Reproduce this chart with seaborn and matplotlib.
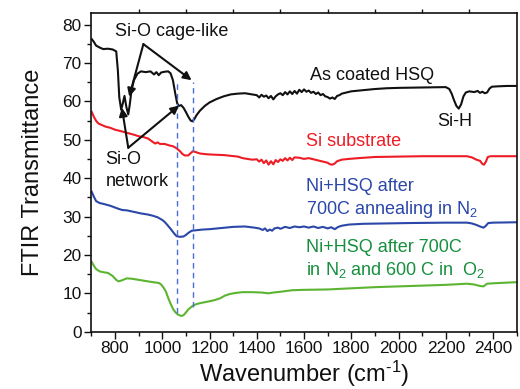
import matplotlib
matplotlib.use("Agg")
import matplotlib.pyplot as plt
import seaborn as sns
import pandas as pd
from matplotlib.ticker import MultipleLocator, FixedLocator

# ---------------- data ----------------
hsq_wn = [700, 710, 720, 735, 750, 770, 790, 805, 812, 818, 826, 833, 840, 848, 856, 862, 870, 880,
          895, 910, 930, 950, 965, 975, 985, 995, 1010, 1025, 1035, 1045, 1055, 1063, 1070, 1080, 1090,
          1100, 1110, 1120, 1127, 1135, 1145, 1160, 1180, 1200, 1230, 1260, 1290, 1320, 1350, 1380,
          1400, 1410, 1420, 1430, 1440, 1450, 1460, 1470, 1480, 1490, 1500, 1510, 1520, 1530, 1540,
          1550, 1560, 1570, 1580, 1590, 1600, 1610, 1620, 1630, 1640, 1650, 1660, 1670, 1680, 1690,
          1700, 1710, 1720, 1730, 1740, 1750, 1760, 1780, 1800, 1850, 1900, 1950, 2000, 2100, 2200,
          2215, 2225, 2235, 2245, 2255, 2265, 2275, 2285, 2300, 2320, 2335, 2345, 2355, 2365, 2375,
          2385, 2395, 2420, 2460, 2500]
hsq_val = [76.3, 75.5, 74.5, 74.0, 73.6, 73.7, 73.5, 73.0, 68.0, 61.0, 57.8, 59.5, 61.4, 58.5, 56.6, 59.0,
           63.0, 65.5, 67.2, 67.8, 67.6, 67.8, 67.0, 67.6, 66.8, 67.5, 67.7, 67.8, 67.3, 65.5, 62.0, 59.5,
           58.8, 59.0, 58.3, 57.2, 56.0, 55.0, 54.8, 55.3, 56.4, 57.6, 58.8, 59.7, 60.6, 61.3, 61.8, 62.0,
           62.1, 61.8, 61.6, 61.0, 61.7, 61.2, 61.5, 60.8, 61.4, 60.5, 61.3, 61.8, 62.1, 61.6, 62.4, 61.8,
           62.6, 61.9, 62.7, 62.0, 63.0, 62.4, 63.1, 62.5, 62.8, 62.2, 62.5, 61.9, 62.3, 61.6, 61.9, 61.3,
           61.1, 60.7, 61.0, 60.6, 61.4, 61.6, 62.0, 62.3, 62.6, 62.9, 63.2, 63.4, 63.5, 63.6, 63.7,
           63.2, 62.0, 60.3, 58.8, 58.1, 59.2, 61.3, 62.3, 62.6, 62.4, 62.7, 62.2, 62.5, 62.1, 62.3,
           63.3, 63.8, 63.9, 64.0, 64.0]

si_wn = [700, 710, 720, 730, 745, 760, 780, 800, 820, 850, 880, 900, 920, 940, 960, 970, 980, 990, 1010,
         1030, 1045, 1060, 1075, 1085, 1095, 1110, 1120, 1130, 1140, 1160, 1190, 1220, 1260, 1290, 1320,
         1340, 1360, 1380, 1400, 1410, 1420, 1430, 1440, 1450, 1460, 1470, 1480, 1490, 1500, 1510, 1520,
         1530, 1540, 1550, 1560, 1580, 1600, 1620, 1640, 1660, 1680, 1700, 1710, 1720, 1730, 1740, 1760,
         1790, 1830, 1900, 2000, 2100, 2200, 2290, 2310, 2330, 2345, 2355, 2362, 2370, 2378, 2390, 2500]
si_val = [57.4, 56.0, 54.9, 54.2, 53.8, 53.4, 53.1, 52.6, 52.3, 51.8, 51.3, 50.9, 50.7, 50.3, 49.4, 49.0,
          49.3, 48.9, 48.9, 48.5, 48.3, 47.8, 47.0, 46.3, 45.9, 45.9, 46.5, 47.0, 46.8, 46.4, 46.2, 46.1,
          46.0, 45.8, 45.6, 45.2, 45.0, 44.8, 44.9, 44.3, 44.8, 43.9, 44.6, 43.5, 44.4, 43.6, 44.7, 44.2,
          44.9, 44.5, 45.2, 44.6, 45.3, 44.7, 45.4, 45.3, 45.0, 45.2, 44.9, 44.6, 44.3, 44.0, 43.6, 43.5,
          43.8, 44.4, 44.8, 45.0, 45.2, 45.5, 45.6, 45.7, 45.7, 45.7, 45.4, 44.8, 44.5, 43.7, 43.5, 44.3,
          45.5, 45.7, 45.7]

n2_wn = [700, 710, 720, 735, 750, 780, 810, 830, 850, 880, 910, 940, 960, 980, 1000, 1010, 1020, 1035,
         1050, 1060, 1075, 1090, 1100, 1112, 1125, 1140, 1170, 1200, 1250, 1300, 1350, 1390, 1410, 1425,
         1435, 1445, 1455, 1465, 1475, 1490, 1500, 1520, 1540, 1560, 1580, 1600, 1620, 1640, 1660, 1680,
         1700, 1715, 1730, 1745, 1760, 1790, 1850, 1950, 2050, 2200, 2290, 2310, 2330, 2345, 2360, 2370,
         2380, 2400, 2500]
n2_val = [36.6, 35.2, 34.0, 33.5, 33.3, 32.8, 32.1, 31.7, 31.6, 31.2, 30.8, 30.5, 30.2, 29.8, 29.1, 28.6,
          27.9, 26.8, 25.6, 24.9, 24.7, 24.8, 25.2, 25.8, 26.3, 26.4, 26.6, 26.7, 27.0, 27.3, 27.4, 27.1,
          26.9, 26.5, 26.9, 26.2, 26.6, 26.3, 26.9, 27.1, 26.8, 27.3, 27.0, 27.4, 27.2, 27.4, 27.1, 27.4,
          27.0, 27.3, 26.9, 27.2, 26.7, 27.3, 27.6, 27.9, 28.1, 28.2, 28.3, 28.4, 28.4, 28.2, 27.8, 27.4,
          27.1, 27.6, 28.3, 28.4, 28.5]

o2_wn = [700, 710, 720, 735, 750, 770, 790, 805, 815, 830, 850, 870, 900, 930, 960, 985, 995, 1005, 1015,
         1025, 1035, 1045, 1055, 1065, 1080, 1090, 1100, 1110, 1120, 1130, 1145, 1165, 1190, 1220, 1245,
         1265, 1285, 1310, 1340, 1380, 1420, 1450, 1470, 1500, 1550, 1600, 1700, 1800, 1900, 2000, 2100,
         2200, 2290, 2320, 2345, 2360, 2375, 2400, 2500]
o2_val = [18.3, 17.2, 16.3, 15.7, 15.5, 15.3, 14.5, 13.5, 13.1, 13.4, 13.9, 13.8, 13.5, 13.2, 12.9, 12.7,
          12.3, 11.5, 10.5, 8.8, 7.3, 6.0, 5.1, 4.5, 4.1, 4.3, 5.0, 5.8, 6.3, 6.8, 7.2, 7.5, 7.8, 8.2, 8.7,
          9.4, 9.8, 10.1, 10.3, 10.3, 10.2, 10.0, 10.2, 10.4, 10.8, 10.9, 11.0, 11.3, 11.6, 11.8, 12.0,
          12.2, 12.5, 12.3, 11.9, 11.8, 12.5, 12.6, 12.9]

# dashed marker lines (Si-O peak positions)
peak_wn = [1064, 1128]
peak_low = [5.0, 6.5]
peak_high = 65.0

x_ticks = [800, 1000, 1200, 1400, 1600, 1800, 2000, 2200, 2400]
y_ticks = [0, 10, 20, 30, 40, 50, 60, 70, 80]

# ---------------- style ----------------
sns.set_theme(style="ticks")
plt.rcParams["font.family"] = ["Liberation Sans", "DejaVu Sans"]
plt.rcParams["mathtext.fontset"] = "custom"
plt.rcParams["mathtext.rm"] = "Liberation Sans"
plt.rcParams["mathtext.it"] = "Liberation Sans"
plt.rcParams["mathtext.default"] = "regular"

c_black = "#111111"
c_red = "#ee1c24"
c_blue = "#2b47a8"
c_green_line = "#5cb531"
c_green_text = "#168f3e"
c_dash = "#4a6fd0"

fig = plt.figure(figsize=(5.2, 3.89), dpi=100)
ax = fig.add_axes([0.1758, 0.1473, 0.8177, 0.8193])

series = [
    (hsq_wn, hsq_val, c_black),
    (si_wn, si_val, c_red),
    (n2_wn, n2_val, c_blue),
    (o2_wn, o2_val, c_green_line),
]
for wn, val, col in series:
    df = pd.DataFrame({"wn": wn, "T": val})
    sns.lineplot(data=df, x="wn", y="T", ax=ax, color=col, lw=1.5, sort=False)

ax.vlines(peak_wn, peak_low, peak_high, colors=c_dash, linestyles=(0, (4, 3)), lw=1.0)

ax.set_xlim(700, 2500)
ax.set_ylim(0, 83)
ax.xaxis.set_major_locator(FixedLocator(x_ticks))
ax.xaxis.set_minor_locator(MultipleLocator(100))
ax.yaxis.set_major_locator(FixedLocator(y_ticks))
ax.yaxis.set_minor_locator(MultipleLocator(5))
ax.tick_params(axis="both", which="major", direction="out", length=5, width=1.0,
               labelsize=12.4, color="#111111", labelcolor="#111111", pad=2)
ax.tick_params(axis="both", which="minor", direction="out", length=3, width=1.0, color="#111111")
for s in ax.spines.values():
    s.set_linewidth(1.2)
    s.set_color("#111111")

# top ticks (outward) at odd hundreds
sec = ax.secondary_xaxis("top")
sec.set_xticks([900, 1100, 1300, 1500, 1700, 1900, 2100, 2300])
sec.set_xticklabels([])
sec.tick_params(direction="out", length=3, width=1.0, color="#111111")
sec.spines["top"].set_visible(False)

ax.set_xlabel("Wavenumber (cm$^{\\text{-}1}$)", fontsize=17, color="#111111", labelpad=2)
ax.set_ylabel("FTIR Transmittance", fontsize=17, color="#111111", labelpad=13)

fs = 13
ax.text(1040, 78.2, "Si-O cage-like", fontsize=fs, ha="center", va="center", color=c_black)
ax.text(759, 42.0, "Si-O\nnetwork", fontsize=fs, ha="left", va="center", color=c_black,
        linespacing=1.45)
ax.text(1890, 66.6, "As coated HSQ", fontsize=fs, ha="center", va="center", color=c_black)
ax.text(2239, 54.8, "Si-H", fontsize=fs, ha="center", va="center", color=c_black)
ax.text(1811, 49.6, "Si substrate", fontsize=fs, ha="center", va="center", color=c_red)
ax.text(1608, 37.9, "Ni+HSQ after", fontsize=fs, ha="left", va="center", color=c_blue)
ax.text(1608, 31.8, "700C annealing in N$_2$", fontsize=fs, ha="left", va="center", color=c_blue)
ax.text(1608, 21.8, "Ni+HSQ after 700C", fontsize=fs, ha="left", va="center", color=c_green_text)
ax.text(1608, 16.1, "in N$_2$ and 600 C in  O$_2$", fontsize=fs, ha="left", va="center",
        color=c_green_text)

arrow = dict(arrowstyle="-|>", color=c_black, lw=1.5, mutation_scale=12, shrinkA=0, shrinkB=0)
cage_apex = (920, 74.9)
for tip in [(860, 61.2), (1124, 65.5)]:
    ax.annotate("", xy=tip, xytext=cage_apex, arrowprops=arrow)
net_apex = (856, 47.9)
for tip in [(829, 58.3), (1071, 58.9)]:
    ax.annotate("", xy=tip, xytext=net_apex, arrowprops=arrow)

fig.savefig("out.png", dpi=100)
